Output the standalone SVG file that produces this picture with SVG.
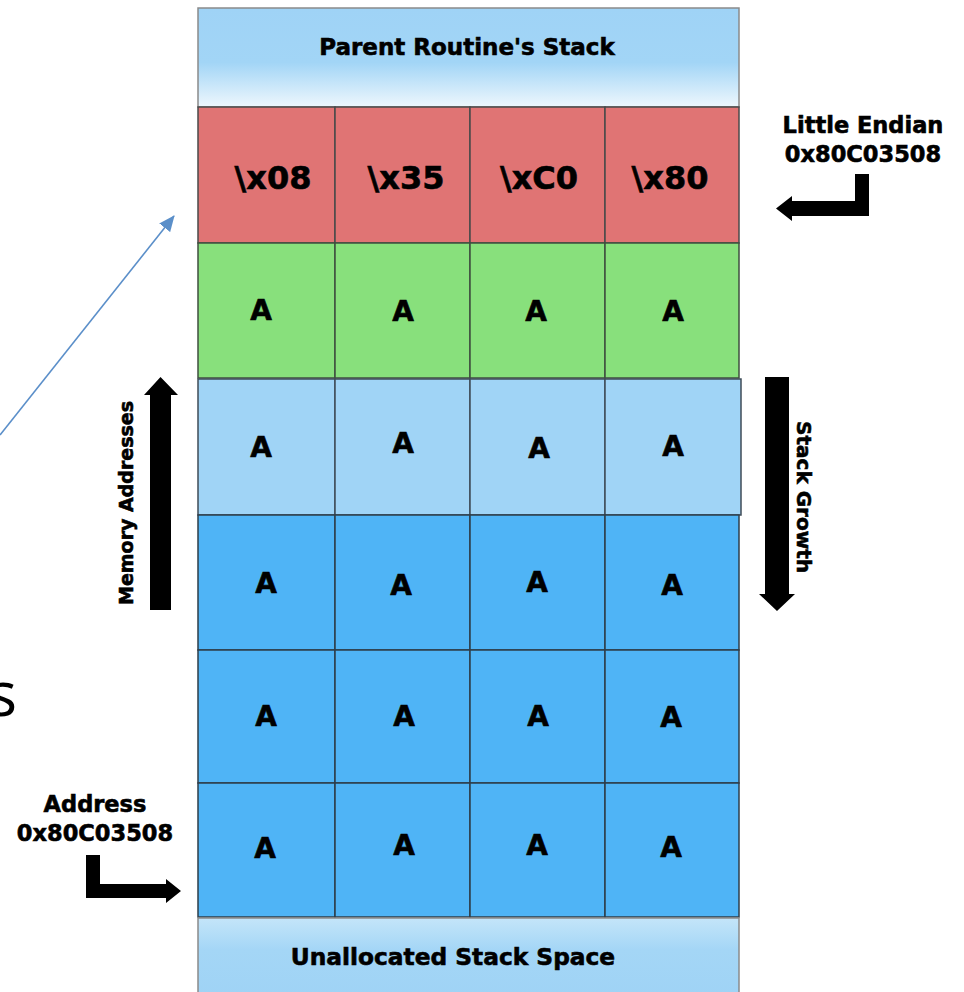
<svg xmlns="http://www.w3.org/2000/svg" width="964" height="992" viewBox="0 0 964 992">
<defs>
<style>
.lbl{font-family:"DejaVu Sans","Verdana",sans-serif;font-weight:bold;fill:#000;stroke:#000;stroke-width:0.6;}
.a{font-size:28px;text-anchor:middle;}
.hx{font-size:32px;text-anchor:middle;}
.red{fill:#e07474;stroke:#4a4a4a;stroke-width:1.5;}
.grn{fill:#88e07c;stroke:#3f4f3f;stroke-width:1.5;}
.lb{fill:#a0d4f6;stroke:#3f4c58;stroke-width:1.5;}
.bl{fill:#4fb4f6;stroke:#2e3e4a;stroke-width:1.5;}
.blk{fill:#000;}
</style>
<linearGradient id="gHead" x1="0" y1="0" x2="0" y2="1">
<stop offset="0" stop-color="#9fd3f6"/>
<stop offset="0.55" stop-color="#a2d5f6"/>
<stop offset="1" stop-color="#eef7fd"/>
</linearGradient>
<linearGradient id="gFoot" x1="0" y1="0" x2="0" y2="1">
<stop offset="0" stop-color="#c4e5f9"/>
<stop offset="0.4" stop-color="#a4d6f6"/>
<stop offset="1" stop-color="#9fd3f5"/>
</linearGradient>
<marker id="ah" markerUnits="userSpaceOnUse" markerWidth="16" markerHeight="14" refX="15" refY="7" orient="auto">
<path d="M0,0 L16,7 L0,14 Z" fill="#5b8fc9"/>
</marker>
</defs>
<rect width="964" height="992" fill="#fff"/>

<g id="parent-stack">
<rect x="198" y="8" width="541" height="99" fill="url(#gHead)" stroke="#8a8a8a" stroke-width="1.5"/>
<text class="lbl" x="467" y="55" font-size="23" text-anchor="middle">Parent Routine's Stack</text>
</g>

<g id="row-red">
<g id="r0c0"><rect class="red" x="198" y="107" width="137" height="136"/><text class="lbl hx" x="273" y="189">\x08</text></g>
<g id="r0c1"><rect class="red" x="335" y="107" width="135" height="136"/><text class="lbl hx" x="406" y="189">\x35</text></g>
<g id="r0c2"><rect class="red" x="470" y="107" width="135" height="136"/><text class="lbl hx" x="539" y="189">\xC0</text></g>
<g id="r0c3"><rect class="red" x="605" y="107" width="134" height="136"/><text class="lbl hx" x="670" y="189">\x80</text></g>
</g>

<g id="row-green">
<g id="r1c0"><rect class="grn" x="198" y="243" width="137" height="135"/><text class="lbl a" x="261" y="320">A</text></g>
<g id="r1c1"><rect class="grn" x="335" y="243" width="135" height="135"/><text class="lbl a" x="403" y="321">A</text></g>
<g id="r1c2"><rect class="grn" x="470" y="243" width="135" height="135"/><text class="lbl a" x="536" y="321">A</text></g>
<g id="r1c3"><rect class="grn" x="605" y="243" width="134" height="135"/><text class="lbl a" x="673" y="321">A</text></g>
</g>

<g id="row-lightblue">
<g id="r2c0"><rect class="lb" x="198" y="379" width="137" height="136"/><text class="lbl a" x="261" y="457">A</text></g>
<g id="r2c1"><rect class="lb" x="335" y="379" width="135" height="136"/><text class="lbl a" x="403" y="453">A</text></g>
<g id="r2c2"><rect class="lb" x="470" y="379" width="135" height="136"/><text class="lbl a" x="539" y="458">A</text></g>
<g id="r2c3"><rect class="lb" x="605" y="379" width="136" height="136"/><text class="lbl a" x="673" y="456">A</text></g>
</g>

<g id="row-blue1">
<g id="r3c0"><rect class="bl" x="198" y="515" width="137" height="135"/><text class="lbl a" x="266" y="593">A</text></g>
<g id="r3c1"><rect class="bl" x="335" y="515" width="135" height="135"/><text class="lbl a" x="401" y="595">A</text></g>
<g id="r3c2"><rect class="bl" x="470" y="515" width="135" height="135"/><text class="lbl a" x="537" y="592">A</text></g>
<g id="r3c3"><rect class="bl" x="605" y="515" width="134" height="135"/><text class="lbl a" x="672" y="595">A</text></g>
</g>

<g id="row-blue2">
<g id="r4c0"><rect class="bl" x="198" y="650" width="137" height="133"/><text class="lbl a" x="266" y="726">A</text></g>
<g id="r4c1"><rect class="bl" x="335" y="650" width="135" height="133"/><text class="lbl a" x="404" y="726">A</text></g>
<g id="r4c2"><rect class="bl" x="470" y="650" width="135" height="133"/><text class="lbl a" x="538" y="726">A</text></g>
<g id="r4c3"><rect class="bl" x="605" y="650" width="134" height="133"/><text class="lbl a" x="671" y="727">A</text></g>
</g>

<g id="row-blue3">
<g id="r5c0"><rect class="bl" x="198" y="783" width="137" height="134"/><text class="lbl a" x="265" y="858">A</text></g>
<g id="r5c1"><rect class="bl" x="335" y="783" width="135" height="134"/><text class="lbl a" x="404" y="855">A</text></g>
<g id="r5c2"><rect class="bl" x="470" y="783" width="135" height="134"/><text class="lbl a" x="537" y="855">A</text></g>
<g id="r5c3"><rect class="bl" x="605" y="783" width="134" height="134"/><text class="lbl a" x="671" y="857">A</text></g>
</g>

<g id="unallocated">
<rect x="198" y="918" width="541" height="80" fill="url(#gFoot)" stroke="#8a8a8a" stroke-width="1.5"/>
<text class="lbl" x="453" y="965" font-size="23.3" text-anchor="middle">Unallocated Stack Space</text>
</g>

<g id="little-endian">
<text class="lbl" x="863" y="133" font-size="22.5" text-anchor="middle">Little Endian</text>
<text class="lbl" x="863" y="162" font-size="22.5" text-anchor="middle">0x80C03508</text>
<polygon class="blk" points="855,174 869,174 869,216 792,216 792,221 776,208.5 792,196 792,201 855,201"/>
</g>

<g id="address">
<text class="lbl" x="95" y="812" font-size="22.5" text-anchor="middle">Address</text>
<text class="lbl" x="95" y="841" font-size="22.5" text-anchor="middle">0x80C03508</text>
<polygon class="blk" points="86,855 100,855 100,884 166,884 166,879 181,891 166,903 166,898 86,898"/>
</g>

<g id="memory-addresses">
<polygon class="blk" points="150,610 171,610 171,395 178,395 160.5,377 144,395 150,395"/>
<text class="lbl" transform="translate(133,503) rotate(-90)" font-size="19" text-anchor="middle">Memory Addresses</text>
</g>

<g id="stack-growth">
<polygon class="blk" points="765,377 789,377 789,594 795,594 777,611 759,594 765,594"/>
<text class="lbl" transform="translate(797,497) rotate(90)" font-size="20" text-anchor="middle">Stack Growth</text>
</g>

<g id="slide-text">
<text x="17" y="716" font-family="'Open Sans','Noto Sans',sans-serif" font-size="62" text-anchor="end" fill="#000">s</text>
</g>

<g id="connectors">
<line x1="0" y1="435" x2="174" y2="216" stroke="#5b8fc9" stroke-width="1.6" marker-end="url(#ah)"/>
</g>
</svg>
